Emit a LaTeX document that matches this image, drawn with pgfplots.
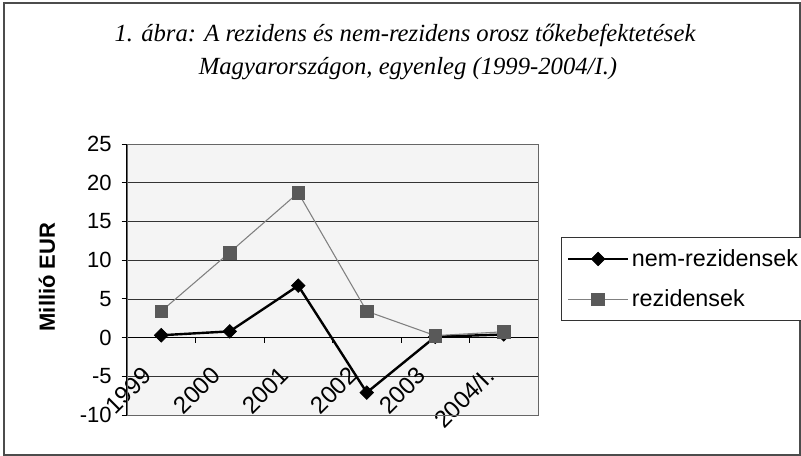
\documentclass[border=0pt]{standalone}
\usepackage{pgfplots}
\pgfplotsset{compat=1.18}
\usepackage{fontspec}
\setmainfont{Liberation Sans}
\newfontfamily\titlefont{Liberation Serif}

\pgfplotstableread{
x y
0 0.3
1 0.8
2 6.7
3 -7.1
4 0.1
5 0.4
}\nemrez
\pgfplotstableread{
x y
0 3.4
1 11.0
2 18.7
3 3.4
4 0.25
5 0.75
}\rez

\begin{document}
\begin{tikzpicture}
\path[use as bounding box] (0,0) rectangle (600.75pt,342pt);
\draw[line width=1pt, black!70] (3pt,0.75pt) rectangle (600pt,339.75pt);

\node[font=\titlefont\itshape\fontsize{18.5}{18.5}\selectfont, anchor=base] at (303.75pt,310.5pt)
  {1. ábra: A rezidens és nem-rezidens orosz tőkebefektetések};
\node[font=\titlefont\itshape\fontsize{18.5}{18.5}\selectfont, anchor=base] at (306pt,285.75pt)
  {Magyarországon, egyenleg (1999-2004/I.)};

\node[rotate=90, font=\bfseries\fontsize{16.5}{16.5}\selectfont] at (35.25pt,134.25pt) {Millió EUR};

\begin{axis}[
  at={(95.25pt,30.75pt)}, anchor=south west,
  width=308.25pt, height=203.25pt, scale only axis,
  xmin=-0.5, xmax=5.5, ymin=-10, ymax=25,
  axis x line=middle, axis y line=left, axis line style={-, black, line width=0.8pt},
  hide obscured x ticks=false, hide obscured y ticks=false,
  clip=false,
  axis background/.style={fill=gray!9},
  xtick={-0.5,0.5,...,5.5},
  x tick label as interval,
  xticklabels={1999,2000,2001,2002,2003,2004/I.},
  ytick={-10,-5,0,5,10,15,20,25},
  yticklabels={-10,-5,0,5,10,15,20,25},
  ymajorgrids,
  grid style={black!80, line width=0.5pt},
  tick align=outside,
  major tick length=4pt,
  tick style={black, line width=0.6pt},
  xticklabel style={font=\fontsize{18}{18}\selectfont, xshift=-15pt, yshift=-12pt, rotate=45, anchor=north east},
  yticklabel style={font=\fontsize{16.5}{16.5}\selectfont, xshift=-4pt},
  legend style={at={(axis description cs:1.056,0.657)}, anchor=north west,
    draw=black!80, line width=0.8pt, fill=white,
    font=\fontsize{17.5}{17.5}\selectfont,
    inner xsep=4pt, inner ysep=7pt, row sep=12pt,
    /tikz/every even column/.append style={column sep=4pt}},
  legend cell align=left,
  legend image code/.code={\draw[mark repeat=2,mark phase=2,#1] plot coordinates {(0pt,0pt) (22.5pt,0pt) (45pt,0pt)};},
]
\addplot[black, line width=1.8pt, mark=square*, mark size=3.6pt, mark options={rotate=45, solid, fill=black, line width=0.5pt}]
  table[x=x, y=y] {\nemrez};
\addlegendentry{nem-rezidensek}
\addplot[gray, line width=0.8pt, mark=square*, mark size=4.8pt, mark options={fill=black!65, draw=black!65, line width=0.4pt}]
  table[x=x, y=y] {\rez};
\addlegendentry{rezidensek}
\draw[black!60, line width=0.6pt] (rel axis cs:0,0) rectangle (rel axis cs:1,1);
\end{axis}
\end{tikzpicture}
\end{document}
